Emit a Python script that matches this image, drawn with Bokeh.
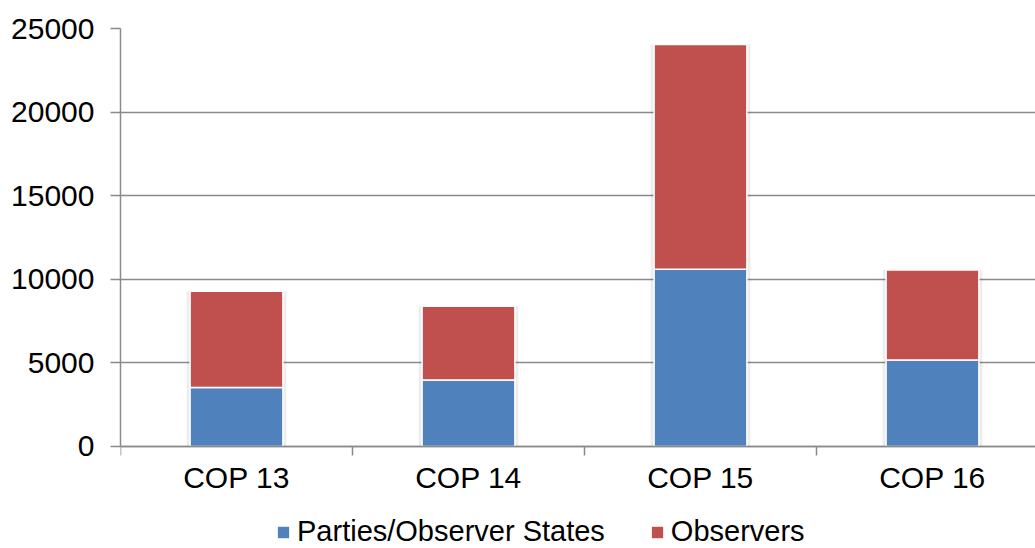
from bokeh.plotting import figure
from bokeh.models import (ColumnDataSource, Range1d, FixedTicker, NumeralTickFormatter,
                          Legend, LegendItem)
from bokeh.embed import file_html
from bokeh.resources import INLINE

categories = ["COP 13", "COP 14", "COP 15", "COP 16"]
parties = [3520, 3970, 10600, 5170]
observers = [5760, 4410, 13450, 5390]
series_labels = ["Parties/Observer States", "Observers"]
colors = ["#4F81BD", "#C0504D"]
y_ticks = [0, 5000, 10000, 15000, 20000, 25000]

centers = [i + 0.5 for i in range(len(categories))]
bounds = [float(i) for i in range(len(categories) + 1)]

source = ColumnDataSource(dict(x=centers, parties=parties, observers=observers,
                               total=[a + b for a, b in zip(parties, observers)]))

FONT = "Liberation Sans"
GRAY = "#8a8a8a"

# frame runs to the bottom of the canvas; the value axis starts at 0 inside it
p = figure(width=1035, height=548, output_backend="svg", toolbar_location=None,
           x_range=Range1d(0, 3.944), y_range=Range1d(-6108, 25000),
           min_border_left=120, min_border_right=0, min_border_top=28, min_border_bottom=0)
p.outline_line_color = None
p.background_fill_color = "white"
p.border_fill_color = "white"

# soft shadow
p.vbar(x="x", top="total", bottom=0, width=0.43, source=source, fill_color="#000000",
       fill_alpha=0.07, line_color=None)

rs = p.vbar_stack(["parties", "observers"], x="x", width=0.4, source=source,
                  color=colors, line_color="white", line_width=1.5)

p.xgrid.visible = False
p.ygrid.ticker = FixedTicker(ticks=y_ticks)
p.ygrid.grid_line_color = GRAY
p.ygrid.grid_line_width = 1.5

yax = p.yaxis[0]
yax.ticker = FixedTicker(ticks=y_ticks)
yax.bounds = (0, 25000)
yax.formatter = NumeralTickFormatter(format="0")
yax.axis_line_color = GRAY
yax.axis_line_width = 1.5
yax.major_tick_line_color = GRAY
yax.major_tick_line_width = 1.5
yax.major_tick_out = 10
yax.major_tick_in = 0
yax.minor_tick_line_color = None
yax.major_label_standoff = 16
yax.major_label_text_font = FONT
yax.major_label_text_font_size = "30px"
yax.major_label_text_color = "black"

xax = p.xaxis[0]
xax.fixed_location = 0
xax.ticker = FixedTicker(ticks=centers, minor_ticks=bounds)
xax.major_label_overrides = {c: lab for c, lab in zip(centers, categories)}
xax.axis_line_color = GRAY
xax.axis_line_width = 1.5
xax.major_tick_line_color = None
xax.major_tick_out = 0
xax.major_tick_in = 0
xax.minor_tick_line_color = GRAY
xax.minor_tick_line_width = 1.5
xax.minor_tick_out = 9
xax.minor_tick_in = 0
xax.major_label_standoff = 6
xax.major_label_text_font = FONT
xax.major_label_text_font_size = "30px"
xax.major_label_text_color = "black"

leg = Legend(items=[LegendItem(label=lab, renderers=[r]) for lab, r in zip(series_labels, rs)],
             orientation="horizontal", location=(155, 0))
leg.border_line_color = None
leg.background_fill_alpha = 0
leg.padding = 0
leg.margin = 0
leg.spacing = 44
leg.glyph_width = 16
leg.glyph_height = 16
leg.label_standoff = 6
leg.label_text_font = FONT
leg.label_text_font_size = "29px"
leg.label_text_color = "black"
leg.click_policy = "none"
p.add_layout(leg, "center")

open("out.html", "w").write(file_html(p, INLINE))
